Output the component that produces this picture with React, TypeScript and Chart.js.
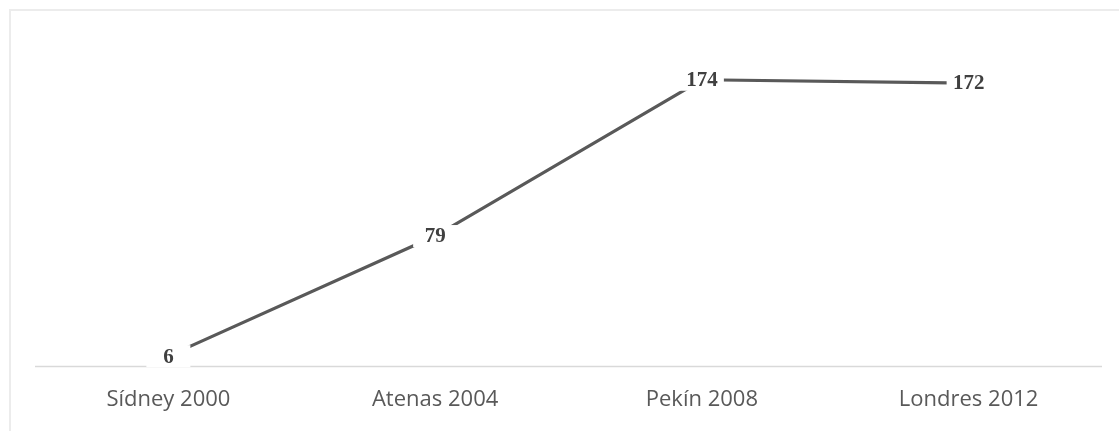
import React, { useEffect, useRef } from "react";
import { Chart, registerables } from "chart.js";

Chart.register(...registerables);

const categories = ["Sídney 2000", "Atenas 2004", "Pekín 2008", "Londres 2012"];
const values = [6, 79, 174, 172];
const yMin = 0;
const yMax = 200;

const decorPlugin = {
  id: "decor",
  beforeDatasetsDraw(chart: any) {
    const { ctx, chartArea } = chart;
    ctx.save();
    ctx.strokeStyle = "#ececec";
    ctx.lineWidth = 2;
    ctx.strokeRect(10, 10, 1300, 600);
    ctx.strokeStyle = "#d9d9d9";
    ctx.lineWidth = 1.3;
    ctx.beginPath();
    ctx.moveTo(chartArea.left, chartArea.bottom + 0.5);
    ctx.lineTo(chartArea.right, chartArea.bottom + 0.5);
    ctx.stroke();
    ctx.restore();
  },
  afterDatasetsDraw(chart: any) {
    const { ctx } = chart;
    const meta = chart.getDatasetMeta(0);
    ctx.save();
    ctx.font = "bold 21px 'Liberation Serif', 'Times New Roman', serif";
    ctx.textAlign = "center";
    ctx.textBaseline = "middle";
    meta.data.forEach((pt: any, i: number) => {
      const w = 44;
      const h = 22;
      ctx.fillStyle = "#ffffff";
      ctx.fillRect(pt.x - w / 2, pt.y - h / 2, w, h);
      ctx.fillStyle = "#404040";
      ctx.fillText(String(values[i]), pt.x, pt.y + 1);
    });
    ctx.restore();
  },
};

export default function App() {
  const ref = useRef<HTMLCanvasElement | null>(null);
  useEffect(() => {
    document.body.style.margin = "0";
    const chart = new Chart(ref.current as HTMLCanvasElement, {
      type: "line",
      data: {
        labels: categories,
        datasets: [
          {
            data: values,
            borderColor: "#595959",
            borderWidth: 3.2,
            pointRadius: 0,
            tension: 0,
            fill: false,
          },
        ],
      },
      options: {
        responsive: false,
        animation: false,
        devicePixelRatio: 1,
        layout: { padding: { left: 35, right: 17, top: 37, bottom: 0 } },
        plugins: { legend: { display: false }, tooltip: { enabled: false } },
        scales: {
          x: {
            offset: true,
            grid: { display: false, drawTicks: false },
            border: { display: false },
            ticks: {
              color: "#595959",
              font: { family: "'Open Sans', sans-serif", size: 22 },
              padding: 21,
              maxRotation: 0,
              autoSkip: false,
            },
            afterFit(scale: any) {
              scale.height = 65;
            },
          },
          y: { display: false, min: yMin, max: yMax },
        },
      },
      plugins: [decorPlugin],
    });
    return () => chart.destroy();
  }, []);
  return <canvas ref={ref} width={1119} height={431} style={{ display: "block" }} />;
}
